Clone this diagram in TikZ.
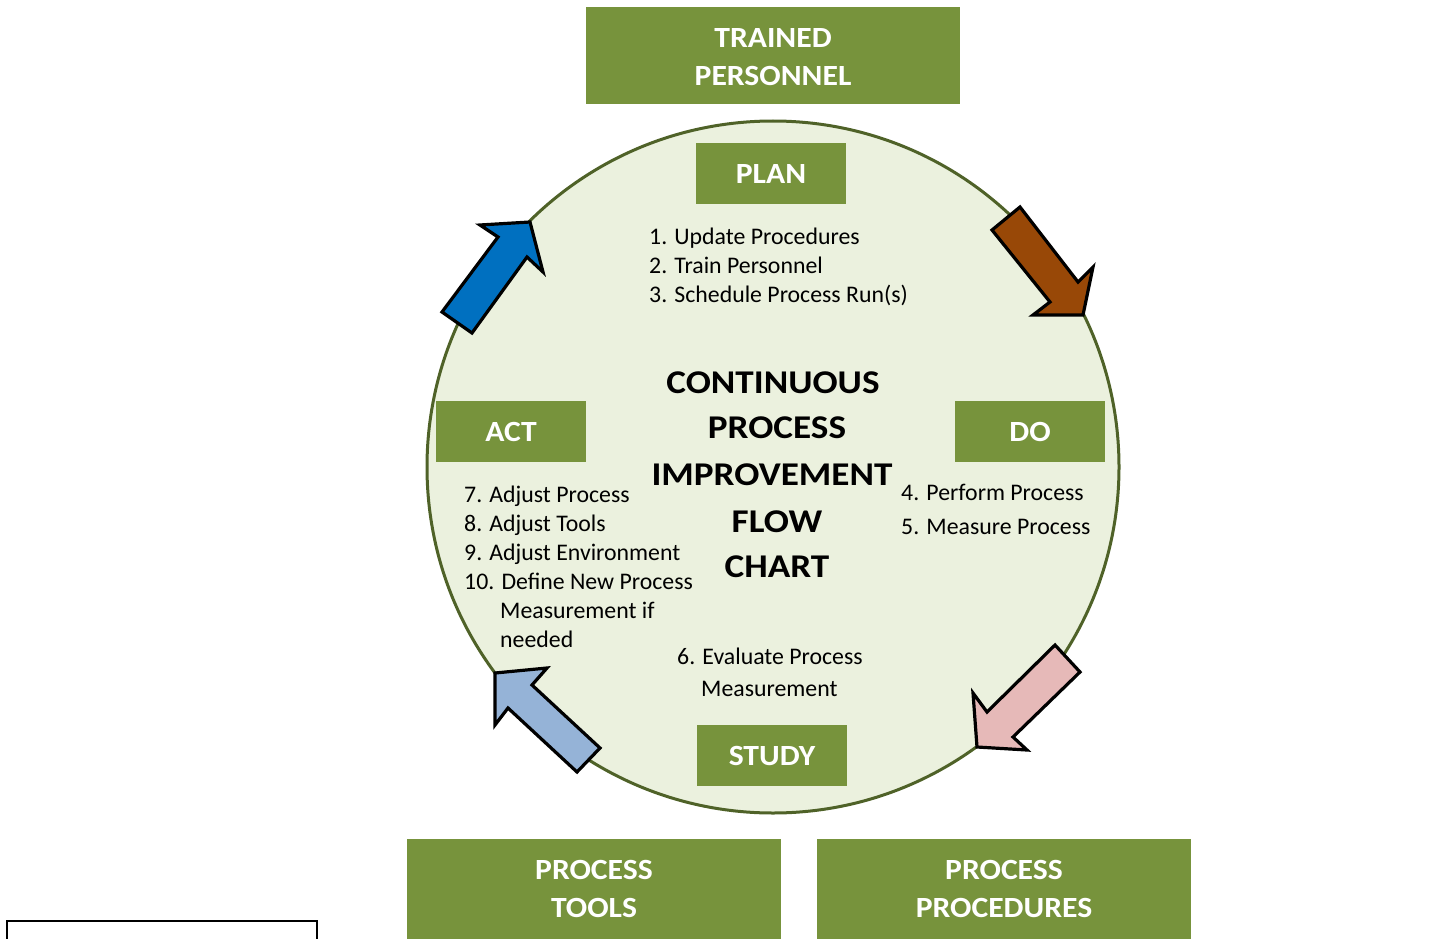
\documentclass[tikz,border=0pt]{standalone}
\usepackage{fontspec}
\setmainfont{Carlito}
\newfontfamily\titlefont[FakeStretch=1.12]{Carlito}
\newfontfamily\boxfont[FakeStretch=1.08]{Carlito}
\definecolor{boxgreen}{HTML}{77933C}
\definecolor{ringfill}{HTML}{EBF1DE}
\definecolor{ringline}{HTML}{4F6228}
\definecolor{arrblue}{HTML}{0070C0}
\definecolor{arrbrown}{HTML}{984807}
\definecolor{arrpink}{HTML}{E6B9B8}
\definecolor{arrsky}{HTML}{95B3D7}
\tikzset{
  greenbox/.style={fill=boxgreen, draw=none, text=white, align=center, inner sep=0pt,
    font={\boxfont\fontsize{29.3}{38.5}\selectfont\bfseries}},
  item/.style={anchor=base west, inner sep=0pt, font={\fontsize{23.8}{28}\selectfont}},
  title/.style={anchor=base, inner sep=0pt, font={\titlefont\fontsize{33.2}{40}\selectfont\bfseries}},
  blockarrow/.style={draw=black, line width=3.2pt, line join=miter},
}
\begin{document}
\begin{tikzpicture}[x=1pt,y=-1pt]
\useasboundingbox (0,0) rectangle (1450,939);
\clip (0,0) rectangle (1450,939);

% cycle background
\node[circle, fill=ringfill, draw=ringline, line width=3pt, minimum size=692pt, inner sep=0pt] (cycle) at (773,467) {};

% cycle arrows
\draw[blockarrow, fill=arrblue] (442,312) -- (498,237) -- (480,225) -- (530,222) -- (543,272) -- (527,257) -- (472,333) -- cycle;
\draw[blockarrow, fill=arrbrown] (992,230) -- (1020,207) -- (1078,282) -- (1093,267) -- (1083,315) -- (1033,315) -- (1050,302) -- cycle;
\draw[blockarrow, fill=arrpink] (1055,645) -- (1080,672) -- (1013,737) -- (1027,750) -- (977,747) -- (973,693) -- (987,712) -- cycle;
\draw[blockarrow, fill=arrsky] (600,748) -- (577,772) -- (508,708) -- (495,725) -- (495,673) -- (547,668) -- (532,685) -- cycle;

% resource boxes
\path[greenbox] (586,7) rectangle (960,104);
\node[greenbox] (trained) at (773,57) {TRAINED\\PERSONNEL};
\path[greenbox] (407,839) rectangle (781,960);
\node[greenbox] (tools) at (594,889) {PROCESS\\TOOLS};
\path[greenbox] (817,839) rectangle (1191,960);
\node[greenbox] (procs) at (1004,889) {PROCESS\\PROCEDURES};

% stage boxes
\node[greenbox, minimum width=150pt, minimum height=61pt] (plan) at (771,173.5) {PLAN};
\node[greenbox, minimum width=150pt, minimum height=61pt] (do) at (1030,431.5) {DO};
\node[greenbox, minimum width=150pt, minimum height=61pt] (study) at (772,755.5) {STUDY};
\node[greenbox, minimum width=150pt, minimum height=61pt] (act) at (511,431.5) {ACT};

% centre title
\node[title] (t1) at (773,393) {CONTINUOUS};
\node[title] (t2) at (777,438) {PROCESS};
\node[title] (t3) at (772,485) {IMPROVEMENT};
\node[title] (t4) at (777,532) {FLOW};
\node[title] (t5) at (777,577) {CHART};

% plan steps
\node[item] (p1) at (649,244) {1. Update Procedures};
\node[item] (p2) at (649,273) {2. Train Personnel};
\node[item] (p3) at (649,302) {3. Schedule Process Run(s)};

% do steps
\node[item] (d4) at (901,500) {4. Perform Process};
\node[item] (d5) at (901,534) {5. Measure Process};

% study step
\node[item] (s6) at (677,664) {6. Evaluate Process};
\node[item] (s6b) at (701,696) {Measurement};

% act steps
\node[item] (a7) at (464,502) {7. Adjust Process};
\node[item] (a8) at (464,531) {8. Adjust Tools};
\node[item] (a9) at (464,560) {9. Adjust Environment};
\node[item] (a10) at (464,589) {10. Define New Process};
\node[item] (a10b) at (500,618) {Measurement if};
\node[item] (a10c) at (500,647) {needed};

% empty outlined box at lower left
\draw[line width=2pt] (7,960) -- (7,921) -- (317,921) -- (317,960);
\end{tikzpicture}
\end{document}
